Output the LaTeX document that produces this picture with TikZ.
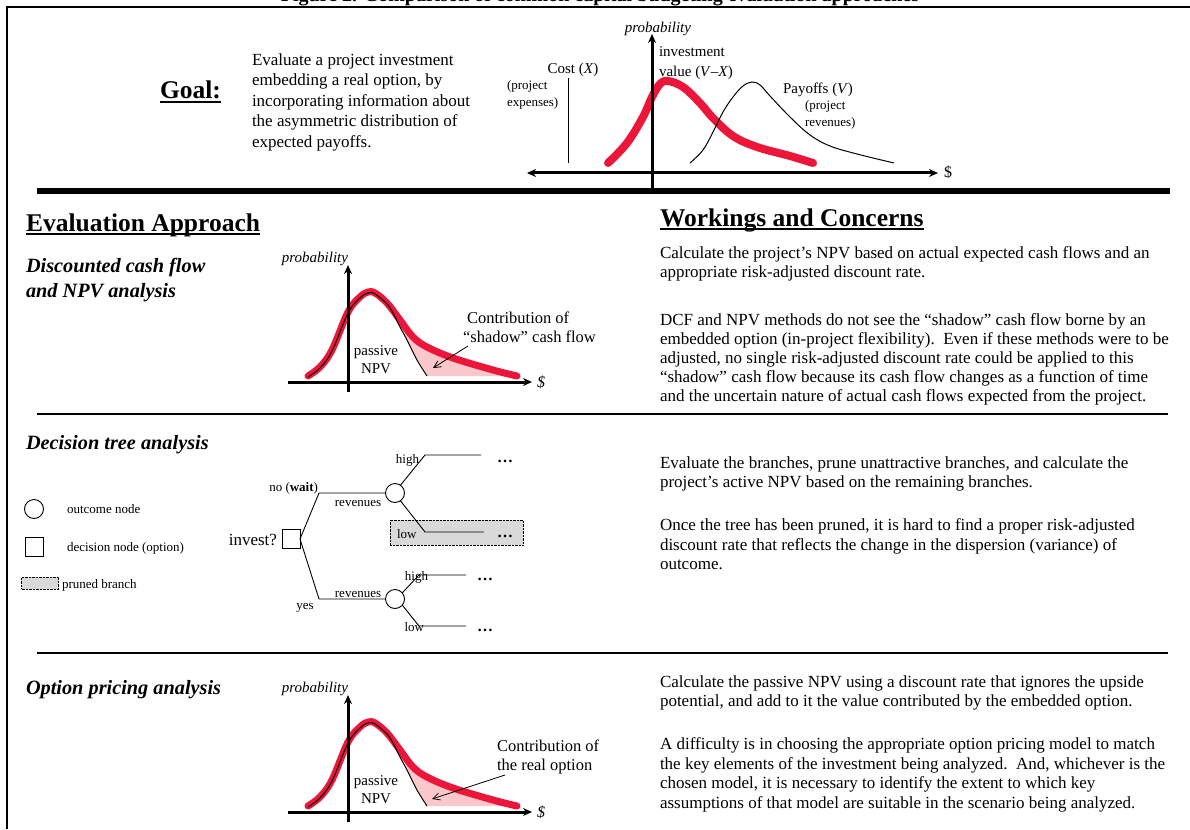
\documentclass[tikz,border=0pt]{standalone}
\usepackage{fontspec}
\setmainfont{Liberation Serif}
\usetikzlibrary{arrows.meta}
\definecolor{cred}{RGB}{236,22,58}
\definecolor{cpink}{RGB}{250,200,202}
\definecolor{cgray}{RGB}{217,217,217}
\tikzset{
  every node/.style={inner sep=0pt, outer sep=0pt},
  body/.style={font=\fontsize{17}{19}\selectfont, anchor=base west},
  goaltxt/.style={font=\fontsize{17}{20}\selectfont, anchor=base west},
  heading/.style={font=\bfseries\fontsize{25.5}{30}\selectfont, anchor=base west},
  sect/.style={font=\bfseries\itshape\fontsize{20.3}{24}\selectfont, anchor=base west},
  lbl/.style={font=\fontsize{15}{18}\selectfont},
  small/.style={font=\fontsize{13.5}{16}\selectfont},
  tiny/.style={font=\fontsize{13}{15}\selectfont},
  prob/.style={font=\itshape\fontsize{15}{18}\selectfont},
  axis/.style={line width=3pt, -{Stealth[length=9pt,width=8pt]}},
  redcurve/.style={cred, line width=7pt, line cap=round, line join=round},
  thincurve/.style={black, line width=1pt},
  rule/.style={line width=1.5pt},
  branch/.style={line width=0.9pt},
  pointer/.style={line width=0.8pt, -{Straight Barb[length=7pt,width=7pt]}},
}
\newcommand\distcurves[1]{%
  \fill[cpink] plot[smooth, tension=0.6] coordinates {(387,303) (393,312) (400,327) (407,340) (417,360) (427,376)}
     -- (505,376) -- plot[smooth, tension=0.6] coordinates {(505,375) (493,370) (453,358) (427,347) (413,337) (400,320) (387,303)} -- cycle;
  \draw[redcurve] plot[smooth, tension=0.6] coordinates {(308,376) (320,367) (332,350) (348,312) (360,297) (368,292) (375,293) (387,303) (400,320) (413,337) (427,347) (453,358) (493,370) (517,376)};
  \draw[thincurve] plot[smooth, tension=0.6] coordinates {(308,377) (320,368) (332,351) (348,313) (360,298) (368,293) (375,294) (387,304) (393,313) (400,327) (407,340) (417,360) (427,376)};
  \coordinate (#1ybot) at (348,392);
  \coordinate (#1ytop) at (348,265);
  \coordinate (#1xl) at (288,382);
  \coordinate (#1xr) at (532,382);
  \draw[axis] (#1xl) -- (#1xr);
  \draw[axis] (#1ybot) -- (#1ytop);
  \node[prob, anchor=base] (#1prob) at (315,262) {probability};
  \node[lbl, anchor=base west, font=\itshape\fontsize{16}{18}\selectfont] (#1dol) at (537,387) {\$};
  \node[lbl, anchor=base] (#1pas) at (376,355) {passive};
  \node[lbl, anchor=base] (#1npv) at (376,373) {NPV};
}
\begin{document}
\begin{tikzpicture}[x=1pt,y=-1pt]
\useasboundingbox (0,0) rectangle (1190,829);
\clip (0,0) rectangle (1190,829);
\fill[white] (0,0) rectangle (1190,829);

% title (cut off) and frame
\node[font=\bfseries\fontsize{20}{24}\selectfont, anchor=base] (title) at (600,2) {Figure 2. Comparison of common capital budgeting evaluation approaches};
\draw[line width=2pt] (7,829) -- (7,7) -- (1190,7);

% ---------- Goal ----------
\node[heading] (goal) at (160,99) {Goal:};
\draw[line width=1.5pt] ([yshift=-3pt]goal.base west) -- ([yshift=-3pt]goal.base east);
\node[goaltxt] (g1) at (252,66) {Evaluate a project investment};
\node[goaltxt] (g2) at (252,86) {embedding a real option, by};
\node[goaltxt] (g3) at (252,107) {incorporating information about};
\node[goaltxt] (g4) at (252,127) {the asymmetric distribution of};
\node[goaltxt] (g5) at (252,148) {expected payoffs.};

% top graph
\draw[thincurve] (568,78) -- (568,163);
\draw[redcurve, line width=8pt] plot[smooth, tension=0.6] coordinates {(608,163) (627,143) (643,117) (652,97) (660,84) (668,81) (683,87) (700,103) (713,118) (733,136) (757,147) (790,156) (813,163)};
\draw[thincurve] plot[smooth, tension=0.6] coordinates {(690,163) (703,150) (713,132) (723,112) (733,97) (743,86) (752,82) (760,85) (770,96) (790,117) (810,135) (830,146) (857,154) (894,163)};
\coordinate (gxl) at (527,173);
\coordinate (gxr) at (938,173);
\coordinate (gyb) at (652,188);
\coordinate (gyt) at (652,34);
\draw[line width=3pt, {Stealth[length=9pt,width=8pt]}-{Stealth[length=9pt,width=8pt]}] (gxl) -- (gxr);
\draw[axis] (gyb) -- (gyt);
\node[lbl, anchor=base west, font=\fontsize{16}{18}\selectfont] (gdol) at (944,178) {\$};
\node[prob, anchor=base] (gprob) at (658,33) {probability};
\node[lbl, anchor=base west] (inv1) at (659,57) {investment};
\node[lbl, anchor=base west] (inv2) at (659,77) {value (\textit{V}–\textit{X})};
\node[lbl, anchor=base] (cost) at (573,74) {Cost (\textit{X})};
\node[tiny, anchor=base west] (pe1) at (507,90) {(project};
\node[tiny, anchor=base west] (pe2) at (507,107) {expenses)};
\node[lbl, anchor=base west] (pay) at (783,94) {Payoffs (\textit{V})};
\node[tiny, anchor=base west] (pr1) at (805,110) {(project};
\node[tiny, anchor=base west] (pr2) at (805,127) {revenues)};

\draw[line width=6pt] (37,191) -- (1170,191);

% ---------- headings ----------
\node[heading] (evap) at (26,231) {Evaluation Approach};
\draw[line width=1.5pt] ([yshift=-3pt]evap.base west) -- ([yshift=-3pt]evap.base east);
\node[heading] (work) at (660,226) {Workings and Concerns};
\draw[line width=1.5pt] ([yshift=-3pt]work.base west) -- ([yshift=-3pt]work.base east);

% ---------- DCF ----------
\node[sect] (dcf1) at (26,272) {Discounted cash flow};
\node[sect] (dcf2) at (26,297) {and NPV analysis};
\distcurves{d}
\node[lbl, anchor=base west, font=\fontsize{16.5}{19}\selectfont] (dc1) at (467,323) {Contribution of};
\node[lbl, anchor=base west, font=\fontsize{16.5}{19}\selectfont] (dc2) at (463,342) {“shadow” cash flow};
\coordinate (dps) at (468,346);
\coordinate (dpt) at (433,368);
\draw[pointer] (dps) -- (dpt);

\node[body] (r1) at (660,258) {Calculate the project's NPV based on actual expected cash flows and an};
\node[body] (r2) at (660,277) {appropriate risk-adjusted discount rate.};
\node[body] (r3) at (660,325) {DCF and NPV methods do not see the “shadow” cash flow borne by an};
\node[body] (r4) at (660,344) {embedded option (in-project flexibility).\ \ Even if these methods were to be};
\node[body] (r5) at (660,363) {adjusted, no single risk-adjusted discount rate could be applied to this};
\node[body] (r6) at (660,382) {“shadow” cash flow because its cash flow changes as a function of time};
\node[body] (r7) at (660,401) {and the uncertain nature of actual cash flows expected from the project.};

\draw[rule] (37,414) -- (1168,414);

% ---------- Decision tree ----------
\node[sect] (dta) at (26,449) {Decision tree analysis};
\node[circle, draw, line width=0.9pt, minimum size=19pt] (lc) at (34,509) {};
\node[tiny, anchor=base west] (lct) at (67,513) {outcome node};
\node[draw, line width=0.9pt, minimum width=18pt, minimum height=19pt] (ls) at (34,547) {};
\node[tiny, anchor=base west] (lst) at (67,551) {decision node (option)};
\node[draw, densely dotted, fill=cgray, minimum width=37pt, minimum height=12pt] (lp) at (40,583) {};
\node[tiny, anchor=base west] (lpt) at (62,588) {pruned branch};

\node[draw, densely dotted, fill=cgray, minimum width=133pt, minimum height=25pt, anchor=north west] (prune) at (390,520) {};
\node[lbl, anchor=base east, font=\fontsize{17}{19}\selectfont] (invq) at (277,545) {invest?};
\node[draw, line width=0.9pt, minimum width=18pt, minimum height=19pt] (sq) at (291,539) {};
\node[circle, draw, line width=0.9pt, minimum size=19pt] (c1) at (395,493) {};
\node[circle, draw, line width=0.9pt, minimum size=19pt] (c2) at (395,599) {};
\coordinate (uj) at (319,493);
\coordinate (lj) at (319,599);
\coordinate (h1a) at (425,455);
\coordinate (h1b) at (481,455);
\coordinate (l1a) at (425,532);
\coordinate (l1b) at (484,532);
\coordinate (h2a) at (419,575);
\coordinate (h2b) at (466,575);
\coordinate (l2a) at (419,626);
\coordinate (l2b) at (466,626);
\draw[branch] (sq.east) -- (uj) -- (c1.west);
\draw[branch] (sq.east) -- (lj) -- (c2.west);
\draw[branch] (c1.55) -- (h1a) -- (h1b);
\draw[branch] (c1.-55) -- (l1a) -- (l1b);
\draw[branch] (c2.40) -- (h2a) -- (h2b);
\draw[branch] (c2.-40) -- (l2a) -- (l2b);
\node[tiny, anchor=base east] (nw) at (318,491) {no (\textbf{wait})};
\node[tiny, anchor=base] (rv1) at (358,506) {revenues};
\node[tiny, anchor=base] (rv2) at (358,597) {revenues};
\node[tiny, anchor=base] (yes) at (305,609) {yes};
\node[tiny, anchor=base east] (hi1) at (419,463) {high};
\node[tiny, anchor=base west] (lo1) at (397,538) {low};
\node[tiny, anchor=base east] (hi2) at (428,580) {high};
\node[tiny, anchor=base east] (lo2) at (424,631) {low};
\node[lbl, anchor=base west, font=\bfseries\fontsize{16}{18}\selectfont] (e1) at (497,462) {…};
\node[lbl, anchor=base west, font=\bfseries\fontsize{16}{18}\selectfont] (e2) at (497,537) {…};
\node[lbl, anchor=base west, font=\bfseries\fontsize{16}{18}\selectfont] (e3) at (477,580) {…};
\node[lbl, anchor=base west, font=\bfseries\fontsize{16}{18}\selectfont] (e4) at (477,631) {…};

\node[body] (t1) at (660,468) {Evaluate the branches, prune unattractive branches, and calculate the};
\node[body] (t2) at (660,487) {project’s active NPV based on the remaining branches.};
\node[body] (t3) at (660,530) {Once the tree has been pruned, it is hard to find a proper risk-adjusted};
\node[body] (t4) at (660,550) {discount rate that reflects the change in the dispersion (variance) of};
\node[body] (t5) at (660,569) {outcome.};

\draw[rule] (37,653) -- (1168,653);

% ---------- Option pricing ----------
\node[sect] (opa) at (26,694) {Option pricing analysis};
\begin{scope}[yshift=-430pt]
\distcurves{o}
\end{scope}
\node[lbl, anchor=base west, font=\fontsize{16.5}{19}\selectfont] (oc1) at (497,751) {Contribution of};
\node[lbl, anchor=base west, font=\fontsize{16.5}{19}\selectfont] (oc2) at (497,770) {the real option};
\coordinate (ops) at (505,775);
\coordinate (opt) at (432,799);
\draw[pointer] (ops) -- (opt);

\node[body] (o1) at (660,687) {Calculate the passive NPV using a discount rate that ignores the upside};
\node[body] (o2) at (660,706) {potential, and add to it the value contributed by the embedded option.};
\node[body] (o3) at (660,749) {A difficulty is in choosing the appropriate option pricing model to match};
\node[body] (o4) at (660,769) {the key elements of the investment being analyzed.\ \ And, whichever is the};
\node[body] (o5) at (660,788) {chosen model, it is necessary to identify the extent to which key};
\node[body] (o6) at (660,808) {assumptions of that model are suitable in the scenario being analyzed.};
\end{tikzpicture}
\end{document}
